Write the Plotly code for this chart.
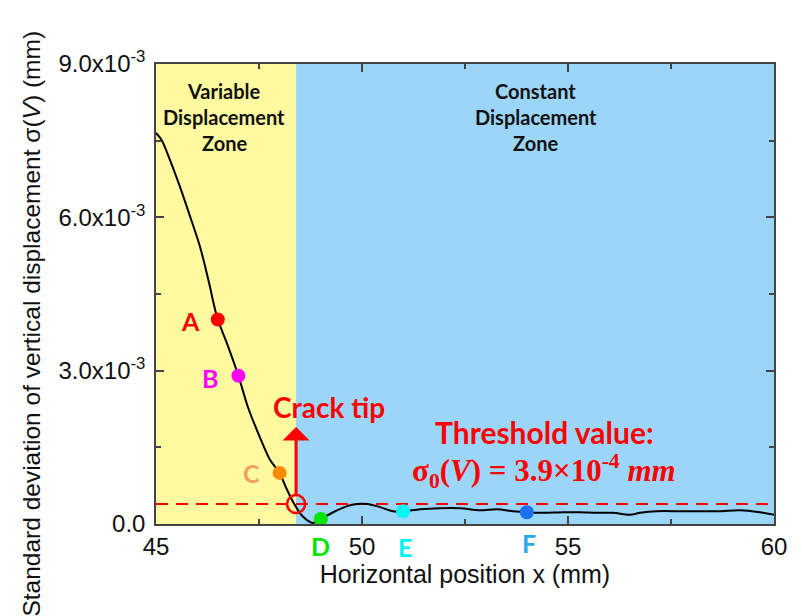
import plotly.graph_objects as go

# Standard deviation of vertical displacement along the horizontal position
x_pos = [45.0, 45.14, 45.34, 45.58, 45.83, 46.07, 46.31, 46.38, 46.5, 46.72, 47.0,
         47.23, 47.52, 47.77, 48.0, 48.18, 48.37, 48.57, 48.81, 49.0, 49.3, 49.64,
         49.88, 50.12, 50.44, 50.75, 51.0, 51.41, 51.89, 52.38, 52.86, 53.28, 53.67,
         54.0, 54.39, 54.88, 55.29, 55.7, 56.09, 56.5, 56.75, 57.16, 57.72, 58.2,
         58.69, 59.17, 59.66, 60.0]
sigma_v = [7.65e-3, 7.51e-3, 7.12e-3, 6.60e-3, 6.01e-3, 5.42e-3, 4.64e-3, 4.38e-3,
           4.0e-3, 3.54e-3, 2.9e-3, 2.29e-3, 1.70e-3, 1.25e-3, 1.0e-3, 0.67e-3,
           0.37e-3, 0.14e-3, 0.02e-3, 0.1e-3, 0.23e-3, 0.35e-3, 0.39e-3, 0.39e-3,
           0.33e-3, 0.25e-3, 0.25e-3, 0.29e-3, 0.31e-3, 0.31e-3, 0.27e-3, 0.29e-3,
           0.25e-3, 0.23e-3, 0.22e-3, 0.23e-3, 0.23e-3, 0.22e-3, 0.22e-3, 0.18e-3,
           0.22e-3, 0.25e-3, 0.25e-3, 0.25e-3, 0.25e-3, 0.27e-3, 0.23e-3, 0.18e-3]

# Marked sample points A-F
point_names = ["A", "B", "C", "D", "E", "F"]
point_x = [46.5, 47.0, 48.0, 49.0, 51.0, 54.0]
point_y = [4.0e-3, 2.9e-3, 1.0e-3, 0.1e-3, 0.25e-3, 0.23e-3]
point_colors = ["#ff0000", "#ff00ff", "#ff8a00", "#00e600", "#00f5f5", "#1a70f0"]
label_colors = ["#ff0000", "#ff00ff", "#f5a060", "#00e600", "#00f5f5", "#29aae6"]

threshold = 3.9e-4
crack_tip_x = 48.4
x_range = [45, 60]
y_range = [0, 9e-3]

x_ticks = [45, 50, 55, 60]
y_ticks = [0, 3e-3, 6e-3, 9e-3]
y_ticktext = ["0.0", "3.0x10<sup>-3</sup>", "6.0x10<sup>-3</sup>", "9.0x10<sup>-3</sup>"]

LABEL_FONT = "Lato"
AXIS_FONT = "Liberation Sans"
fig = go.Figure()

# Zone backgrounds
fig.add_shape(type="rect", xref="x", yref="y", x0=x_range[0], x1=crack_tip_x,
              y0=y_range[0], y1=y_range[1], fillcolor="#fffaa0", line_width=0, layer="below")
fig.add_shape(type="rect", xref="x", yref="y", x0=crack_tip_x, x1=x_range[1],
              y0=y_range[0], y1=y_range[1], fillcolor="#9bd6f8", line_width=0, layer="below")

# Threshold line
fig.add_trace(go.Scatter(x=x_range, y=[threshold, threshold], mode="lines",
                         line=dict(color="#ff0000", width=2, dash="12px,8px"),
                         hoverinfo="skip", showlegend=False))

# Main curve
fig.add_trace(go.Scatter(x=x_pos, y=sigma_v, mode="lines",
                         line=dict(color="#000000", width=2, shape="spline", smoothing=0.8),
                         showlegend=False))

# Sample points
fig.add_trace(go.Scatter(x=point_x, y=point_y, mode="markers",
                         marker=dict(size=14, color=point_colors, line_width=0),
                         showlegend=False))

# Crack tip circle
fig.add_trace(go.Scatter(x=[crack_tip_x], y=[threshold], mode="markers",
                         marker=dict(size=18, symbol="circle-open",
                                     line=dict(color="#ff0000", width=2.5), color="#ff0000"),
                         showlegend=False))

# Arrow marking the crack tip
fig.add_annotation(x=crack_tip_x, y=1.9e-3, ax=crack_tip_x, ay=0.54e-3,
                   xref="x", yref="y", axref="x", ayref="y", text="",
                   showarrow=True, arrowhead=1, arrowsize=1.5, arrowwidth=3,
                   arrowcolor="#ff0000")
fig.add_annotation(x=49.19, y=2.29e-3, xref="x", yref="y", text="<b>Crack tip</b>",
                   showarrow=False, font=dict(family=LABEL_FONT, size=28, color="#ff0000"))

# Threshold label
fig.add_annotation(x=54.44, y=1.8e-3, xref="x", yref="y", text="<b>Threshold value:</b>",
                   showarrow=False, font=dict(family=LABEL_FONT, size=30, color="#ff0000"))
fig.add_annotation(x=54.42, y=1.04e-3, xref="x", yref="y",
                   text="<b>σ<sub>0</sub>(<i>V</i>) = 3.9×10<sup>-4</sup> <i>mm</i></b>",
                   showarrow=False,
                   font=dict(family="Liberation Serif", size=31, color="#ff0000"))

# Zone titles
for i, line in enumerate(["Variable", "Displacement", "Zone"]):
    fig.add_annotation(x=46.66, y=8.47e-3 - i * 0.51e-3, xref="x", yref="y",
                       text=f"<b>{line}</b>", showarrow=False,
                       font=dict(family=LABEL_FONT, size=20, color="#111111"))
for i, line in enumerate(["Constant", "Displacement", "Zone"]):
    fig.add_annotation(x=54.22, y=8.47e-3 - i * 0.51e-3, xref="x", yref="y",
                       text=f"<b>{line}</b>", showarrow=False,
                       font=dict(family=LABEL_FONT, size=20, color="#111111"))

# Point letters: A-C beside their points, D-F under the x axis
inside_labels = {"A": (45.83, 3.97e-3), "B": (46.31, 2.86e-3), "C": (47.31, 1.0e-3)}
below_labels = {"D": (49.0, -0.048), "E": (51.05, -0.05), "F": (54.05, -0.042)}
for name, col in zip(point_names, label_colors):
    if name in inside_labels:
        lx, ly = inside_labels[name]
        yref = "y"
    else:
        lx, ly = below_labels[name]
        yref = "paper"
    fig.add_annotation(x=lx, y=ly, xref="x", yref=yref, text=f"<b>{name}</b>",
                       xanchor="center", yanchor="middle",
                       showarrow=False, font=dict(family=LABEL_FONT, size=25, color=col))

# Y axis title
fig.add_annotation(x=-0.202, y=0.436, xref="paper", yref="paper", xanchor="center",
                   yanchor="middle",
                   text="Standard deviation of vertical displacement σ(<i>V</i>) (mm)",
                   textangle=-90, showarrow=False,
                   font=dict(family=AXIS_FONT, size=24.5, color="#111111"))

axis_common = dict(showline=True, linecolor="#444444", linewidth=1.5, mirror="ticks",
                   ticks="inside", ticklen=8, tickwidth=1.5, tickcolor="#444444",
                   showgrid=False, zeroline=False,
                   tickfont=dict(family=AXIS_FONT, size=24, color="#111111"))

fig.update_xaxes(range=x_range, tickvals=x_ticks, ticktext=[str(v) for v in x_ticks],
                 minor=dict(ticks="inside", ticklen=5, tickwidth=1.5, tickcolor="#444444",
                            dtick=2.5, tick0=45),
                 title=dict(text="Horizontal position x (mm)", standoff=0,
                            font=dict(family=AXIS_FONT, size=25, color="#111111")),
                 **axis_common)
fig.update_yaxes(range=y_range, tickvals=y_ticks, ticktext=y_ticktext,
                 minor=dict(ticks="inside", ticklen=5, tickwidth=1.5, tickcolor="#444444",
                            dtick=1.5e-3, tick0=0),
                 ticklabelstandoff=4,
                 **axis_common)

fig.update_layout(width=802, height=616, margin=dict(l=156, r=28, t=64, b=92),
                  paper_bgcolor="white", plot_bgcolor="white", showlegend=False)

fig.write_html("out.html")
